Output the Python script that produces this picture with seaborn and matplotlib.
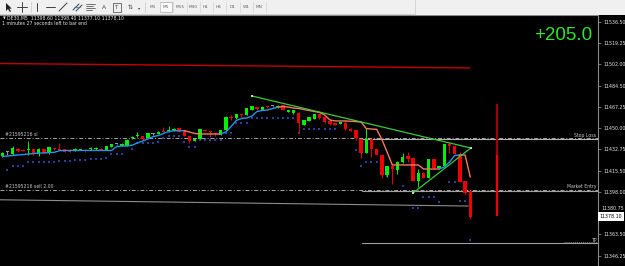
import numpy as np
import pandas as pd
import matplotlib
matplotlib.use("Agg")
import matplotlib.pyplot as plt
import seaborn as sns
from matplotlib.patches import Rectangle, Polygon
from matplotlib.lines import Line2D
import matplotlib.transforms as mtransforms

# ---------------- data ----------------
symbol_title = "DE30,M5  11398.60 11398.40 11377.10 11378.10"
timer_text = "1 minutes 27 seconds left to bar end"
profit_text = "+205.0"
timeframes = ["M1", "M5", "M15", "M30", "H1", "H4", "D1", "W1", "MN"]
selected_tf = "M5"

opens = [11427.3, 11430.2, 11428.9, 11433.0, 11432.2, 11431.8, 11433.0, 11429.2, 11432.8, 11429.4,
         11433.3, 11432.8, 11432.8, 11432.2, 11431.4, 11432.2, 11432.4, 11432.8, 11432.8, 11433.3,
         11432.4, 11434.6, 11436.8, 11435.4, 11435.4, 11441.9, 11443.3, 11443.5, 11442.2, 11445.2,
         11445.2, 11447.2, 11447.6, 11447.6, 11450.1, 11447.9, 11443.8, 11439.7, 11441.1, 11448.4,
         11447.6, 11445.4, 11444.4, 11448.8, 11459.2, 11457.8, 11461.4, 11460.6, 11464.7, 11466.9,
         11464.7, 11467.4, 11467.9, 11466.9, 11468.8, 11463.3, 11462.0, 11462.5, 11452.5, 11456.0,
         11457.4, 11461.4, 11458.8, 11455.8, 11453.9, 11453.3, 11454.4, 11449.5, 11448.4, 11440.9,
         11430.0, 11440.9, 11433.0, 11428.1, 11411.8, 11419.4, 11415.9, 11422.7, 11427.3, 11425.9,
         11407.2, 11413.7, 11409.6, 11424.6, 11417.2, 11419.2, 11436.8, 11435.7, 11428.9, 11407.0,
         11398.6]
closes = [11429.8, 11430.2, 11433.8, 11431.6, 11431.6, 11432.6, 11429.4, 11433.3, 11430.0, 11434.4,
          11432.6, 11432.2, 11430.8, 11430.6, 11433.3, 11433.0, 11431.1, 11433.6, 11433.6, 11432.4,
          11435.4, 11436.8, 11436.8, 11436.8, 11440.7, 11443.0, 11443.8, 11441.1, 11445.6, 11445.2,
          11447.1, 11446.8, 11448.8, 11449.5, 11447.1, 11443.5, 11439.7, 11441.1, 11449.2, 11447.6,
          11447.1, 11444.9, 11448.4, 11459.2, 11457.9, 11461.4, 11460.6, 11466.1, 11467.9, 11465.3,
          11467.4, 11466.9, 11467.9, 11468.2, 11464.7, 11464.7, 11464.7, 11453.9, 11456.6, 11458.8,
          11461.4, 11457.9, 11454.7, 11453.1, 11452.5, 11454.9, 11449.0, 11447.9, 11441.9, 11430.0,
          11440.9, 11433.0, 11428.1, 11411.8, 11419.2, 11416.7, 11422.7, 11426.7, 11424.8, 11407.2,
          11413.2, 11409.6, 11424.6, 11417.2, 11419.2, 11436.8, 11435.7, 11428.9, 11406.4, 11397.0,
          11378.1]
highs = [11430.6, 11431.4, 11435.7, 11434.2, 11432.6, 11439.5, 11433.8, 11433.4, 11433.0, 11434.6,
         11433.4, 11437.5, 11433.0, 11432.6, 11433.6, 11433.3, 11432.8, 11434.4, 11434.9, 11433.6,
         11435.7, 11437.1, 11437.3, 11437.5, 11440.9, 11443.5, 11446.8, 11443.9, 11445.8, 11446.2,
         11447.4, 11450.6, 11451.7, 11449.8, 11450.5, 11448.2, 11444.2, 11441.4, 11449.5, 11448.7,
         11447.9, 11445.8, 11448.7, 11459.6, 11460.6, 11461.7, 11461.7, 11466.3, 11468.2, 11467.1,
         11467.7, 11467.7, 11468.2, 11468.5, 11469.0, 11464.9, 11464.9, 11462.8, 11456.8, 11459.0,
         11461.7, 11461.7, 11459.0, 11456.0, 11454.1, 11455.2, 11456.0, 11449.8, 11448.7, 11441.4,
         11449.8, 11441.1, 11433.3, 11428.4, 11419.4, 11419.7, 11423.0, 11430.0, 11430.8, 11426.2,
         11416.7, 11414.1, 11424.8, 11424.8, 11419.4, 11437.1, 11438.9, 11436.0, 11430.8, 11407.2,
         11398.6]
lows = [11426.5, 11428.1, 11428.5, 11430.6, 11431.0, 11428.1, 11428.1, 11427.3, 11429.4, 11428.9,
        11432.2, 11431.8, 11430.6, 11430.2, 11431.0, 11431.8, 11430.8, 11432.4, 11432.4, 11432.2,
        11432.2, 11434.4, 11436.3, 11435.2, 11435.2, 11441.4, 11442.9, 11440.7, 11441.9, 11444.1,
        11444.9, 11446.6, 11447.1, 11447.3, 11446.8, 11443.3, 11438.1, 11439.5, 11440.9, 11447.3,
        11443.0, 11443.6, 11444.1, 11448.4, 11456.6, 11457.6, 11458.8, 11460.4, 11464.5, 11464.9,
        11464.5, 11466.6, 11467.4, 11466.6, 11464.5, 11463.1, 11461.7, 11446.2, 11452.3, 11455.7,
        11457.1, 11457.6, 11454.4, 11452.7, 11452.3, 11453.1, 11448.7, 11447.6, 11440.3, 11425.4,
        11429.7, 11426.7, 11427.9, 11409.1, 11410.5, 11404.3, 11412.6, 11421.3, 11422.7, 11406.9,
        11401.8, 11409.4, 11409.4, 11417.0, 11417.0, 11418.9, 11429.5, 11428.7, 11406.1, 11396.6,
        11377.1]

# trailing-stop indicator (blue = up, orange = down)
trail_values = [11426.9, 11427.3, 11427.7, 11428.1, 11428.5, 11428.9, 11429.3, 11429.7, 11429.7, 11430.1,
                11430.3, 11431.6, 11431.8, 11431.8, 11431.8, 11431.8, 11431.8, 11431.8, 11431.8, 11431.8,
                11431.8, 11431.8, 11435.0, 11435.4, 11435.4, 11436.2, 11437.9, 11439.5, 11441.1, 11443.1,
                11443.9, 11445.6, 11447.2, 11447.9, 11447.9, 11447.9, 11446.8, 11445.6, 11445.2, 11445.2,
                11445.2, 11445.2, 11445.2, 11446.8, 11451.3, 11456.2, 11457.8, 11458.2, 11459.8, 11463.5,
                11464.3, 11464.7, 11465.9, 11467.1, 11467.5, 11467.1, 11466.3, 11465.9, 11465.1, 11464.3,
                11463.5, 11462.7, 11460.6, 11456.6, 11455.8, 11455.8, 11455.8, 11455.5, 11455.3, 11454.9,
                11449.6, 11449.2, 11449.0, 11440.7, 11430.5, 11420.0, 11420.0, 11420.0, 11420.0, 11420.0,
                11420.0, 11416.7, 11416.7, 11416.7, 11416.7, 11418.4, 11422.4, 11427.7, 11428.1, 11428.1,
                11410.2]
trail_dirs = list("uuuuuuuuuuuuuuuuuuuuuuuuuuuuuuuuuuuu"
                  "ddddddd"
                  "uuuuuuuuuuu"
                  "ddddddddddddddddddddddddddddddd"
                  "uuuu"
                  "dd")

N = None
band_dots = [N, 11415.9, 11418.8, 11418.8, 11418.8, 11422.2, 11422.2, 11422.2, 11422.2, 11422.2,
             11422.2, 11423.5, 11423.5, 11423.5, 11424.0, 11424.0, 11424.0, 11424.6, 11424.6, 11424.6,
             11425.4, 11428.9, 11428.9, 11428.9, N, 11432.7, 11437.6, 11437.6, 11437.6, 11438.1,
             11438.7, 11441.9, 11443.8, 11443.8, 11443.8, 11438.9, 11434.9, 11434.9, 11439.9, 11439.9,
             11439.9, 11439.9, 11439.9, 11446.0, 11446.0, 11454.4, 11454.4, 11454.4, 11457.8, 11457.8,
             11457.8, 11457.8, 11457.8, 11457.8, 11457.8, 11457.8, 11457.8, 11445.8, 11449.2, 11449.2,
             11449.2, 11449.2, 11449.2, 11449.2, 11449.2, N, N, N, 11432.2, 11419.2,
             11422.8, 11422.8, 11422.8, N, 11411.0, N, N, 11402.9, N, 11385.0,
             11385.0, 11394.2, 11394.2, 11394.2, 11390.1, N, 11406.4, 11406.4, 11390.7, 11390.7,
             11359.0]

price_ticks = [11536.50, 11519.25, 11502.00, 11484.50, 11467.25, 11450.00, 11432.75,
               11415.50, 11398.00, 11380.75, 11363.50, 11346.25]
last_price = 11378.10

# drawn objects (bar index, price)
red_trend_t = [-0.44, 89.9]
red_trend_p = [11502.5, 11498.9]
gray_trend_t = [-0.44, 89.6]
gray_trend_p = [11391.7, 11386.6]
tri_upper_t = [48.0, 90.1]
tri_upper_p = [11476.1, 11433.8]
tri_lower_t = [79.0, 90.1]
tri_lower_p = [11397.2, 11433.8]
vline_t = 95.1
vline_dark = [11469.5, 11428.1]
vline_bright = [11428.1, 11378.5]

stop_loss = 11441.6
entry_price = 11399.9
take_profit = 11357.1
order_start_t = 69.2
order_id = "#21595216"

# ---------------- style ----------------
sns.set_style("dark")
plt.rcParams['font.family'] = ['DejaVu Sans']

W, H = 625, 266
fig = plt.figure(figsize=(W / 100, H / 100), dpi=100, facecolor='black')

def fx(px):
    return px / W

def fy(py):
    return 1 - py / H

top_px = 14.7
ax = fig.add_axes([0, 0, 598 / W, (H - top_px) / H])
ax.set_facecolor('black')
x_left, x_right = -0.44, 114.56
ax.set_xlim(x_left, x_right)
ax.set_ylim(11337.85, 11542.19)

n = len(opens)
idx = np.arange(n)
o = np.array(opens); c = np.array(closes); h = np.array(highs); l = np.array(lows)
cols = np.where(c > o, '#00F000', np.where(c < o, '#F00000', '#9A9A9A'))

# candles
ax.vlines(idx, l, h, colors=cols, lw=0.7, zorder=3)
body_h = np.maximum(np.abs(c - o), 0.8)
ax.bar(idx, body_h, bottom=np.minimum(o, c), width=0.62, color=cols, linewidth=0, zorder=4)

# trailing indicator
df = pd.DataFrame({"t": idx, "v": trail_values, "d": trail_dirs})
runs = []
start = 0
for i in range(1, n + 1):
    if i == n or trail_dirs[i] != trail_dirs[start]:
        runs.append((start, i - 1, trail_dirs[start]))
        start = i
for s, e, d in runs:
    seg = df.iloc[max(s - 1, 0):e + 1]
    sns.lineplot(data=seg, x="t", y="v", ax=ax, sort=False, estimator=None,
                 color='#1E96F0' if d == 'u' else '#F47A5C', lw=1.0, zorder=5)

# band dots
dots = pd.DataFrame({"t": idx, "v": [np.nan if v is None else v for v in band_dots]}).dropna()
sns.scatterplot(data=dots, x="t", y="v", ax=ax, s=2.2, color='#2A3F9A', marker='s',
                linewidth=0, zorder=2)

# horizontal order lines
ax.axhline(stop_loss, color='#A8A8A8', lw=0.7, ls=(0, (4, 2, 1, 2)), zorder=1)
ax.axhline(entry_price, color='#A8A8A8', lw=0.7, ls=(0, (4, 2, 1, 2)), zorder=1)
ax.plot([order_start_t, x_right], [stop_loss - 0.4, stop_loss - 0.4], color='#B4B4B4', lw=0.8, zorder=1)
ax.plot([order_start_t, x_right], [entry_price - 1.2, entry_price - 1.2], color='#A0A0A0', lw=0.8, zorder=1)
ax.plot([order_start_t, x_right], [take_profit - 0.8, take_profit - 0.8], color='#A0A0A0', lw=0.8, zorder=1)
ax.plot([108.0, x_right], [take_profit, take_profit], color='#A8A8A8', lw=0.6, ls=(0, (1, 1.5)), zorder=1)

# trend lines
ax.plot(red_trend_t, red_trend_p, color='#C80000', lw=1.0, zorder=2)
ax.plot(gray_trend_t, gray_trend_p, color='#8C8C8C', lw=0.8, zorder=1)
sns.lineplot(x=tri_upper_t, y=tri_upper_p, ax=ax, color='#3CC83C', lw=0.9, zorder=6)
sns.lineplot(x=tri_lower_t, y=tri_lower_p, ax=ax, color='#3CC83C', lw=0.9, zorder=6)
ax.scatter([tri_upper_t[0], tri_upper_t[1], tri_lower_t[0]],
           [tri_upper_p[0], tri_upper_p[1], tri_lower_p[0]],
           s=3, marker='s', color='#9CF09C', zorder=7, linewidths=0)

# vertical red marker
ax.vlines([vline_t], vline_dark[0], vline_dark[1], color='#A00000', lw=1.6, zorder=3)
ax.vlines([vline_t], vline_bright[0], vline_bright[1], color='#F00000', lw=1.6, zorder=3)

# order labels
tf = dict(fontsize=3.3, color='#C8C8C8', zorder=8)
ax.text(0.52, stop_loss + 3.5, f"{order_id} sl", ha='left', va='center', **tf)
ax.text(0.52, entry_price + 3.0, f"{order_id} sell 2.00", ha='left', va='center', **tf)
ax.text(114.2, stop_loss + 2.2, "Stop Loss", ha='right', va='center', **tf)
ax.text(114.2, entry_price + 2.2, "Market Entry", ha='right', va='center', **tf)
ax.text(114.2, take_profit + 1.6, "TP", ha='right', va='center', **tf)

# axis
ax.set_xlabel(""); ax.set_ylabel("")
ax.set_xticks([])
ax.yaxis.tick_right()
ax.set_yticks(price_ticks)
# the label next to the current-price box is placed by hand just above the box
hidden_tick = 11380.75
ax.set_yticklabels(["" if v == hidden_tick else f"{v:.2f}" for v in price_ticks])
ax.tick_params(axis='y', labelsize=3.4, length=2.5, width=0.5, pad=1.5,
               labelcolor='#E6E6E6', color='#A0A0A0')
ax.grid(False)
for side in ['left', 'bottom']:
    ax.spines[side].set_visible(False)
for side in ['top', 'right']:
    ax.spines[side].set_visible(True)
    ax.spines[side].set_color('#8A8A8A')
    ax.spines[side].set_linewidth(0.8)

blend = mtransforms.blended_transform_factory(ax.transAxes, ax.transData)
lift = mtransforms.offset_copy(blend, fig=fig, x=0, y=3.2, units='points')
ax.text(1.0 + 0.0066, hidden_tick, f"{hidden_tick:.2f}", transform=lift, ha='left', va='center',
        fontsize=3.4, color='#E6E6E6', clip_on=False, zorder=9)
ax.text(1.003, last_price, f"{last_price:.2f}", transform=blend, ha='left', va='center',
        fontsize=3.4, color='black', clip_on=False, zorder=10,
        bbox=dict(boxstyle='square,pad=0.35', fc='white', ec='none'))

# chart header texts
fig.text(fx(2.5), fy(18.3), "\u25BC", fontsize=2.6, color='#E0E0E0', va='center', ha='left')
fig.text(fx(7.0), fy(18.3), symbol_title, fontsize=3.3, color='#E6E6E6', va='center', ha='left')
fig.text(fx(2.5), fy(23.4), timer_text, fontsize=3.3, color='#E6E6E6', va='center', ha='left')
fig.text(fx(592), fy(35), profit_text, fontsize=13.5, color='#2EE62E', va='center', ha='right',
         family=['Liberation Sans', 'DejaVu Sans'])

# toolbar
fig.patches.append(Rectangle((0, fy(top_px)), 1, top_px / H, transform=fig.transFigure,
                             facecolor='#F0F0F0', edgecolor='none', zorder=0))
fig.add_artist(Line2D([0, fx(415)], [fy(13.6), fy(13.6)], color='#C8C8C8', lw=0.6))
fig.add_artist(Line2D([fx(415), fx(415)], [fy(0), fy(13.6)], color='#D0D0D0', lw=0.6))
icon = '#404040'
# cursor arrow
fig.patches.append(Polygon([(fx(6), fy(3)), (fx(6), fy(11)), (fx(8), fy(9)), (fx(9.8), fy(12)),
                            (fx(11), fy(11.4)), (fx(9.4), fy(8.6)), (fx(11.8), fy(8.6))],
                           closed=True, transform=fig.transFigure, facecolor='#202020',
                           edgecolor='none'))
def tline(x0, y0, x1, y1, color=icon, lw=0.7):
    fig.add_artist(Line2D([fx(x0), fx(x1)], [fy(y0), fy(y1)], color=color, lw=lw))
tline(17, 7, 27, 7); tline(22, 2, 22, 12)
tline(31, 2, 31, 12, color='#C8C8C8', lw=0.5)
tline(37, 3, 37, 11)
tline(46, 7, 55, 7)
tline(59, 11, 67, 3)
tline(73, 10, 79, 4); tline(76, 11, 82, 5); tline(74, 7, 80, 7, color='#3070C0', lw=0.5)
for yy, x1 in [(4, 95), (6, 93), (8, 95), (10, 92)]:
    tline(86, yy, x1, yy, lw=0.5)
fig.text(fx(104), fy(7.3), "A", fontsize=4.2, color=icon, ha='center', va='center')
fig.patches.append(Rectangle((fx(113), fy(11.5)), fx(8), 8.5 / H, transform=fig.transFigure,
                             facecolor='none', edgecolor=icon, lw=0.5))
fig.text(fx(117), fy(7.3), "T", fontsize=3.8, color=icon, ha='center', va='center')
fig.text(fx(130), fy(7.3), "\u21C5", fontsize=4.2, color=icon, ha='center', va='center')
fig.text(fx(139), fy(7.6), "\u25BE", fontsize=3.2, color=icon, ha='center', va='center')
tline(145, 2, 145, 12, color='#C8C8C8', lw=0.5)
tf_x = [153, 166, 180, 193, 206, 219, 233, 246, 259]
for lab, xx in zip(timeframes, tf_x):
    fig.text(fx(xx), fy(7.3), lab, fontsize=3.1, color='#606060', ha='center', va='center')
    tline(xx + 6.7, 2, xx + 6.7, 12, color='#D4D4D4', lw=0.5)
    if lab == selected_tf:
        fig.patches.append(Rectangle((fx(xx - 6.3), fy(12)), fx(12.6), 10 / H,
                                     transform=fig.transFigure, facecolor='#FAFAFA',
                                     edgecolor='#A8A8A8', lw=0.5, zorder=0.5))

fig.savefig("out.png", dpi=100, facecolor='black')
